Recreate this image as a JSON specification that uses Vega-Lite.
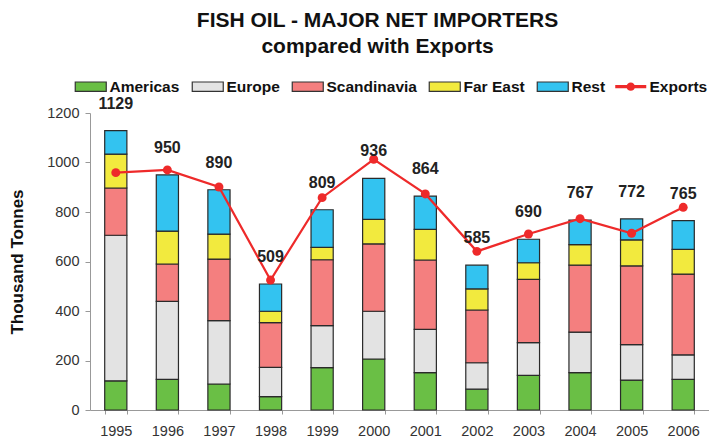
{
  "$schema": "https://vega.github.io/schema/vega-lite/v6.json",
  "width": 619,
  "height": 297,
  "autosize": {"type": "none"},
  "padding": {"left": 90, "top": 113, "right": 0, "bottom": 31},
  "background": "white",
  "config": {
    "view": {"stroke": null},
    "font": "Liberation Sans",
    "axis": {"labelFont": "Liberation Sans", "titleFont": "Liberation Sans", "labelColor": "#333", "labelFontSize": 14.5, "domainColor": "#999", "tickColor": "#999", "grid": false}
  },
  "title": {
    "text": "FISH OIL - MAJOR NET IMPORTERS",
    "subtitle": "compared with Exports",
    "font": "Liberation Sans",
    "subtitleFont": "Liberation Sans",
    "fontSize": 21,
    "subtitleFontSize": 21,
    "fontWeight": "bold",
    "subtitleFontWeight": "bold",
    "color": "#111",
    "subtitleColor": "#111",
    "anchor": "middle",
    "frame": "group",
    "dx": -22,
    "offset": 22,
    "subtitlePadding": 5
  },
  "datasets": {
    "bars": [
      {"year": "1995", "region": "Americas", "k": 1, "value": 118},
      {"year": "1995", "region": "Europe", "k": 2, "value": 588},
      {"year": "1995", "region": "Scandinavia", "k": 3, "value": 191},
      {"year": "1995", "region": "Far East", "k": 4, "value": 137},
      {"year": "1995", "region": "Rest", "k": 5, "value": 95},
      {"year": "1996", "region": "Americas", "k": 1, "value": 124},
      {"year": "1996", "region": "Europe", "k": 2, "value": 315},
      {"year": "1996", "region": "Scandinavia", "k": 3, "value": 151},
      {"year": "1996", "region": "Far East", "k": 4, "value": 133},
      {"year": "1996", "region": "Rest", "k": 5, "value": 227},
      {"year": "1997", "region": "Americas", "k": 1, "value": 105},
      {"year": "1997", "region": "Europe", "k": 2, "value": 256},
      {"year": "1997", "region": "Scandinavia", "k": 3, "value": 249},
      {"year": "1997", "region": "Far East", "k": 4, "value": 101},
      {"year": "1997", "region": "Rest", "k": 5, "value": 179},
      {"year": "1998", "region": "Americas", "k": 1, "value": 54},
      {"year": "1998", "region": "Europe", "k": 2, "value": 118},
      {"year": "1998", "region": "Scandinavia", "k": 3, "value": 181},
      {"year": "1998", "region": "Far East", "k": 4, "value": 46},
      {"year": "1998", "region": "Rest", "k": 5, "value": 110},
      {"year": "1999", "region": "Americas", "k": 1, "value": 171},
      {"year": "1999", "region": "Europe", "k": 2, "value": 170},
      {"year": "1999", "region": "Scandinavia", "k": 3, "value": 266},
      {"year": "1999", "region": "Far East", "k": 4, "value": 50},
      {"year": "1999", "region": "Rest", "k": 5, "value": 152},
      {"year": "2000", "region": "Americas", "k": 1, "value": 206},
      {"year": "2000", "region": "Europe", "k": 2, "value": 193},
      {"year": "2000", "region": "Scandinavia", "k": 3, "value": 272},
      {"year": "2000", "region": "Far East", "k": 4, "value": 99},
      {"year": "2000", "region": "Rest", "k": 5, "value": 166},
      {"year": "2001", "region": "Americas", "k": 1, "value": 151},
      {"year": "2001", "region": "Europe", "k": 2, "value": 175},
      {"year": "2001", "region": "Scandinavia", "k": 3, "value": 280},
      {"year": "2001", "region": "Far East", "k": 4, "value": 124},
      {"year": "2001", "region": "Rest", "k": 5, "value": 134},
      {"year": "2002", "region": "Americas", "k": 1, "value": 84},
      {"year": "2002", "region": "Europe", "k": 2, "value": 107},
      {"year": "2002", "region": "Scandinavia", "k": 3, "value": 213},
      {"year": "2002", "region": "Far East", "k": 4, "value": 85},
      {"year": "2002", "region": "Rest", "k": 5, "value": 96},
      {"year": "2003", "region": "Americas", "k": 1, "value": 140},
      {"year": "2003", "region": "Europe", "k": 2, "value": 132},
      {"year": "2003", "region": "Scandinavia", "k": 3, "value": 256},
      {"year": "2003", "region": "Far East", "k": 4, "value": 67},
      {"year": "2003", "region": "Rest", "k": 5, "value": 95},
      {"year": "2004", "region": "Americas", "k": 1, "value": 151},
      {"year": "2004", "region": "Europe", "k": 2, "value": 164},
      {"year": "2004", "region": "Scandinavia", "k": 3, "value": 270},
      {"year": "2004", "region": "Far East", "k": 4, "value": 83},
      {"year": "2004", "region": "Rest", "k": 5, "value": 99},
      {"year": "2005", "region": "Americas", "k": 1, "value": 121},
      {"year": "2005", "region": "Europe", "k": 2, "value": 143},
      {"year": "2005", "region": "Scandinavia", "k": 3, "value": 318},
      {"year": "2005", "region": "Far East", "k": 4, "value": 105},
      {"year": "2005", "region": "Rest", "k": 5, "value": 85},
      {"year": "2006", "region": "Americas", "k": 1, "value": 124},
      {"year": "2006", "region": "Europe", "k": 2, "value": 99},
      {"year": "2006", "region": "Scandinavia", "k": 3, "value": 326},
      {"year": "2006", "region": "Far East", "k": 4, "value": 100},
      {"year": "2006", "region": "Rest", "k": 5, "value": 116}
    ],
    "exp": [
      {"year": "1995", "exports": 959, "total": 1129},
      {"year": "1996", "exports": 970, "total": 950},
      {"year": "1997", "exports": 901, "total": 890},
      {"year": "1998", "exports": 525, "total": 509},
      {"year": "1999", "exports": 858, "total": 809},
      {"year": "2000", "exports": 1013, "total": 936},
      {"year": "2001", "exports": 873, "total": 864},
      {"year": "2002", "exports": 641, "total": 585},
      {"year": "2003", "exports": 711, "total": 690},
      {"year": "2004", "exports": 773, "total": 767},
      {"year": "2005", "exports": 714, "total": 772},
      {"year": "2006", "exports": 819, "total": 765}
    ]
  },
  "encoding": {
    "x": {
      "field": "year", "type": "ordinal", "title": null,
      "scale": {"paddingInner": 0.57, "paddingOuter": 0.285},
      "axis": {"labelAngle": 0, "tickBand": "extent", "tickSize": 4, "labelPadding": 10, "domainColor": "#999"}
    }
  },
  "layer": [
    {
      "data": {"name": "bars"},
      "mark": {"type": "bar", "stroke": "#2a2a2a", "strokeWidth": 1.2},
      "encoding": {
        "y": {
          "field": "value", "type": "quantitative", "title": "Thousand Tonnes",
          "scale": {"domain": [0, 1200], "nice": false},
          "axis": {"values": [0, 200, 400, 600, 800, 1000, 1200], "format": "d", "tickSize": 5, "labelPadding": 6, "titleFontSize": 17, "titleFontWeight": "bold", "titleColor": "#111", "titlePadding": 20}
        },
        "order": {"field": "k", "sort": "ascending"},
        "color": {
          "field": "region", "type": "nominal",
          "scale": {
            "domain": ["Americas", "Europe", "Scandinavia", "Far East", "Rest", "Exports"],
            "range": ["#6abf45", "#e3e3e3", "#f47f7f", "#f2ea3e", "#33c3f0", "#ee2a2a"]
          },
          "legend": {
            "title": null,
            "orient": "none",
            "legendX": -7,
            "legendY": -34.5,
            "direction": "horizontal",
            "labelFont": "Liberation Sans",
            "labelFontSize": 15.5,
            "labelFontWeight": "bold",
            "labelColor": "#111",
            "labelOffset": 11,
            "columnPadding": 9,
            "symbolSize": 961,
            "symbolStrokeColor": "#333",
            "symbolStrokeWidth": 1,
            "encode": {
              "symbols": {
                "update": {
                  "shape": {"signal": "datum.value === 'Exports' ? 'M-1,-0.1H1V0.1H-1Z M0.27,0A0.27,0.27 0 1,1 -0.27,0A0.27,0.27 0 1,1 0.27,0Z' : 'M-1,-0.3H1V0.3H-1Z'"},
                  "strokeWidth": {"signal": "datum.value === 'Exports' ? 0 : 1.2"}
                }
              }
            }
          }
        }
      }
    },
    {
      "data": {"name": "exp"},
      "mark": {"type": "line", "color": "#ee2a2a", "strokeWidth": 2.2, "point": {"filled": true, "size": 80, "color": "#ee2a2a"}},
      "encoding": {
        "y": {"field": "exports", "type": "quantitative", "title": "Thousand Tonnes"}
      }
    },
    {
      "data": {"name": "exp"},
      "mark": {"type": "text", "fontSize": 16, "fontWeight": "bold", "color": "#222", "dy": -27, "baseline": "middle"},
      "encoding": {
        "y": {"field": "total", "type": "quantitative", "title": "Thousand Tonnes"},
        "text": {"field": "total", "type": "quantitative"}
      }
    }
  ]
}
